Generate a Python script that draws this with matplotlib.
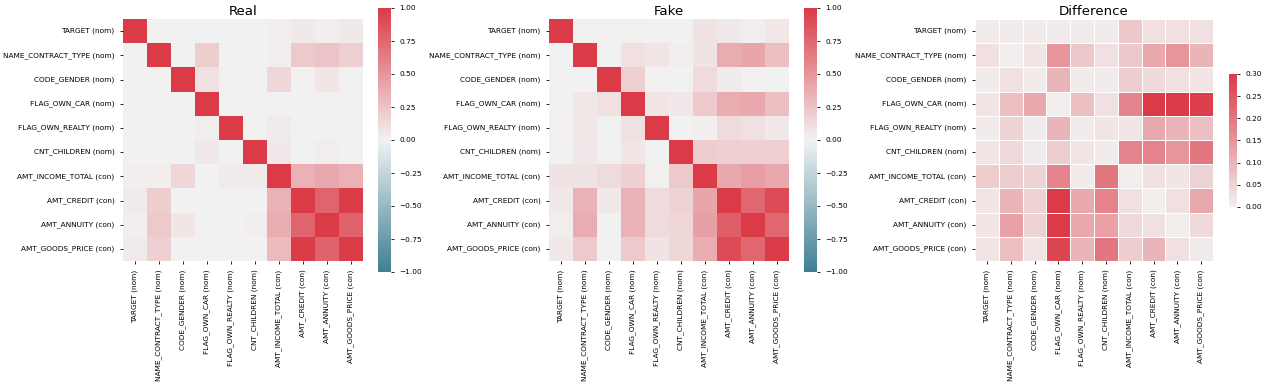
import numpy as np
import matplotlib
matplotlib.use('Agg')
import matplotlib.pyplot as plt
import seaborn as sns

labels = ['TARGET (nom)', 'NAME_CONTRACT_TYPE (nom)', 'CODE_GENDER (nom)',
          'FLAG_OWN_CAR (nom)', 'FLAG_OWN_REALTY (nom)', 'CNT_CHILDREN (nom)',
          'AMT_INCOME_TOTAL (con)', 'AMT_CREDIT (con)', 'AMT_ANNUITY (con)',
          'AMT_GOODS_PRICE (con)']

real = [
    [1.00, 0.00, 0.00, 0.00, 0.00, 0.00, 0.02, 0.05, 0.02, 0.05],
    [0.00, 1.00, 0.00, 0.20, 0.00, 0.00, 0.02, 0.22, 0.25, 0.18],
    [0.00, 0.00, 1.00, 0.10, 0.00, 0.00, 0.15, 0.00, 0.07, 0.00],
    [0.00, 0.00, 0.00, 1.00, 0.00, 0.00, 0.00, 0.00, 0.00, 0.00],
    [0.00, 0.00, 0.00, 0.03, 1.00, 0.00, 0.04, 0.00, 0.00, 0.00],
    [0.00, 0.00, 0.00, 0.05, 0.00, 1.00, 0.05, 0.00, 0.03, 0.00],
    [0.02, 0.02, 0.15, 0.00, 0.04, 0.04, 1.00, 0.35, 0.40, 0.35],
    [0.04, 0.20, 0.00, 0.00, 0.00, 0.00, 0.35, 1.00, 0.77, 0.99],
    [0.02, 0.22, 0.07, 0.00, 0.00, 0.02, 0.38, 0.77, 1.00, 0.78],
    [0.04, 0.18, 0.00, 0.00, 0.00, 0.00, 0.30, 0.99, 0.78, 1.00],
]

fake = [
    [1.00, 0.01, 0.01, 0.01, 0.00, 0.00, 0.08, 0.05, 0.02, 0.06],
    [0.00, 1.00, 0.00, 0.10, 0.07, 0.02, 0.08, 0.38, 0.42, 0.28],
    [0.00, 0.00, 1.00, 0.18, 0.00, 0.00, 0.12, 0.04, 0.00, 0.00],
    [0.00, 0.06, 0.10, 1.00, 0.07, 0.05, 0.22, 0.38, 0.40, 0.27],
    [0.01, 0.06, 0.00, 0.10, 1.00, 0.00, 0.02, 0.12, 0.10, 0.05],
    [0.00, 0.05, 0.00, 0.07, 0.00, 1.00, 0.20, 0.18, 0.18, 0.18],
    [0.08, 0.08, 0.12, 0.18, 0.01, 0.22, 1.00, 0.40, 0.45, 0.40],
    [0.05, 0.35, 0.05, 0.35, 0.12, 0.17, 0.42, 1.00, 0.75, 0.90],
    [0.03, 0.38, 0.00, 0.35, 0.12, 0.15, 0.45, 0.80, 1.00, 0.75],
    [0.05, 0.22, 0.00, 0.22, 0.08, 0.15, 0.38, 0.90, 0.75, 1.00],
]

diff = [
    [0.01, 0.01, 0.01, 0.01, 0.01, 0.01, 0.07, 0.03, 0.03, 0.03],
    [0.03, 0.005, 0.02, 0.15, 0.07, 0.03, 0.07, 0.12, 0.15, 0.10],
    [0.01, 0.03, 0.01, 0.10, 0.01, 0.01, 0.06, 0.04, 0.03, 0.02],
    [0.02, 0.08, 0.12, 0.005, 0.08, 0.03, 0.18, 0.30, 0.30, 0.29],
    [0.01, 0.05, 0.01, 0.10, 0.01, 0.02, 0.02, 0.12, 0.10, 0.08],
    [0.02, 0.04, 0.01, 0.06, 0.02, 0.01, 0.18, 0.18, 0.15, 0.20],
    [0.06, 0.06, 0.05, 0.18, 0.01, 0.20, 0.005, 0.03, 0.02, 0.05],
    [0.02, 0.10, 0.05, 0.30, 0.12, 0.18, 0.03, 0.005, 0.03, 0.12],
    [0.02, 0.13, 0.05, 0.30, 0.12, 0.13, 0.04, 0.03, 0.005, 0.04],
    [0.02, 0.08, 0.02, 0.28, 0.10, 0.20, 0.06, 0.10, 0.03, 0.01],
]

W, H = 1266, 385
fs = 5.3

def box(x0, y0, x1, y1):
    # pixel box -> figure fraction
    return [x0 / W, 1 - y1 / H, (x1 - x0) / W, (y1 - y0) / H]

cmap = sns.diverging_palette(220, 10, as_cmap=True)

fig = plt.figure(figsize=(W / 100, H / 100), dpi=100)

panels = [('Real', real, 123), ('Fake', fake, 549)]
for title, data, x0 in panels:
    ax = fig.add_axes(box(x0, 19, x0 + 240, 261))
    cax = fig.add_axes(box(x0 + 255, 8, x0 + 268, 272))
    sns.heatmap(np.array(data), ax=ax, cbar_ax=cax, cmap=cmap,
                vmin=-1, vmax=1, center=0,
                xticklabels=labels, yticklabels=labels)
    ax.set_title(title, fontsize=9.6, pad=3)
    ax.tick_params(labelsize=fs, length=2.5, width=0.6)
    cax.tick_params(labelsize=fs, length=2.5, width=0.6)

ax = fig.add_axes(box(975, 19, 1213, 261))
cax = fig.add_axes(box(1229, 74, 1237, 207))
sns.heatmap(np.array(diff), ax=ax, cbar_ax=cax, cmap=cmap,
            vmin=0, vmax=0.3, center=0, linewidths=0.6, linecolor='white',
            xticklabels=labels, yticklabels=labels)
ax.set_title('Difference', fontsize=9.6, pad=3)
ax.tick_params(labelsize=fs, length=2.5, width=0.6)
cax.tick_params(labelsize=fs, length=2.5, width=0.6)

fig.savefig('out.png', dpi=100)
